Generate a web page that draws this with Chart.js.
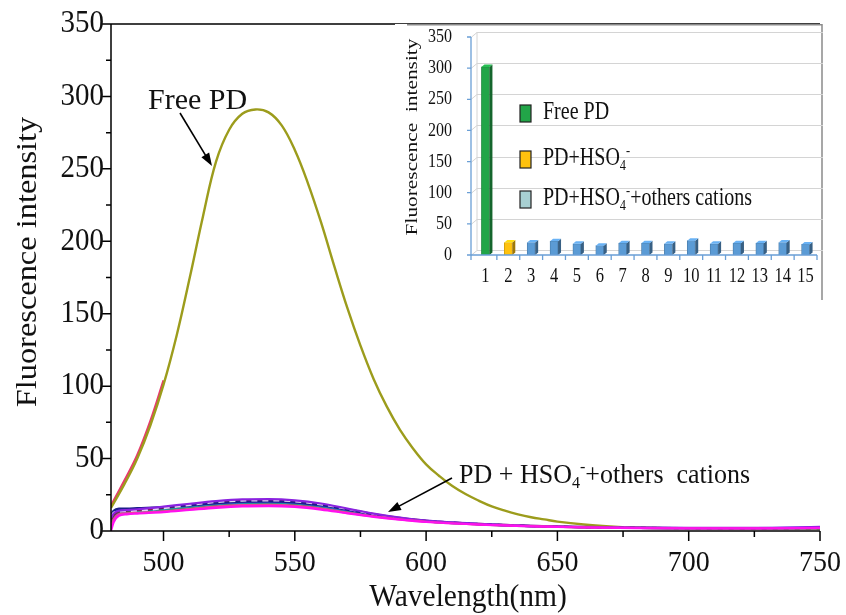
<!DOCTYPE html>
<html>
<head>
<meta charset="utf-8">
<script src="https://cdn.jsdelivr.net/npm/chart.js@4.4.0/dist/chart.umd.min.js"></script>
<style>
  html, body { margin: 0; padding: 0; background: #fff; }
  #wrap { position: relative; width: 846px; height: 615px; }
  #main { position: absolute; left: 0; top: 0; }
  #inset { position: absolute; left: 395px; top: 24px; }
</style>
</head>
<body>
<div id="wrap">
  <canvas id="main" width="846" height="615"></canvas>
  <canvas id="inset" width="432" height="280"></canvas>
</div>
<script>
// emission spectra, intensity vs wavelength (nm)
const wavelengths = [480, 485, 490, 495, 500, 505, 510, 515, 520, 525, 530, 535, 540, 545, 550, 555, 560, 565, 570,
                     575, 580, 585, 590, 595, 600, 605, 610, 615, 620, 625, 630, 635, 640, 645, 650,
                     660, 670, 680, 690, 700, 725, 750];
const freePD = [16, 32, 50, 73, 101, 135, 175, 217, 255, 277, 288, 291, 289, 280, 263, 240, 213, 183, 154,
                128, 105, 86, 70, 57, 46, 38, 31, 25.5, 21, 17, 14, 11.5, 9.5, 8, 6.5,
                4.5, 3.2, 2.4, 2, 1.8, 1.6, 1.5];

// second scan of the free probe, only visible on the rising edge
const repeatWl = [480, 485, 490, 495, 500];
const freePDRepeat = [17.5, 34.5, 52.5, 76, 104];

// PD + HSO4- with the other cations
const cationWl = [480, 481, 483, 486, 490, 500, 510, 520, 530, 540, 550, 560, 570, 580, 590, 600, 620, 640, 660, 680, 700, 725, 750];
const navyCurve    = [11, 14, 15.5, 15.5, 15.8, 16.5, 17.8, 19.2, 20.2, 20.5, 19.8, 17.8, 14.8, 11.5, 8.8, 7, 4.8, 3.4, 2.6, 2.2, 2, 1.8, 2];
const blueCurve    = [10, 13, 14.5, 14.8, 15.2, 16.2, 17.5, 19, 20, 20.2, 19.5, 17.5, 14.5, 11.3, 8.7, 6.9, 4.8, 3.4, 2.6, 2.2, 2, 2, 2.4];
const purpleCurve  = [9, 12, 14, 14.5, 15, 16.8, 18.8, 20.6, 21.8, 22, 21.2, 19, 15.5, 12, 9.2, 7.2, 5, 3.6, 2.8, 2.3, 2.1, 2.1, 2.8];
const wineCurve    = [8, 11, 13.5, 14, 14.5, 16, 18, 19.8, 21, 21.2, 20.4, 18.3, 15, 11.7, 9, 7, 4.9, 3.5, 2.7, 2.2, 2, 1.9, 2.2];
const lilacCurve   = [10, 12.5, 13.5, 13.8, 14, 15.8, 18, 20, 21, 21.2, 20.5, 18.4, 15.2, 11.8, 9, 7, 4.9, 3.5, 2.7, 2.2, 2, 1.9, 2];
const tealCurve    = [7, 10, 12.5, 13, 13.5, 15, 16.8, 18.5, 19.4, 19.6, 19, 17, 14, 11, 8.5, 6.7, 4.7, 3.4, 2.6, 2.2, 1.9, 1.8, 2];
const greenCurve   = [6, 9, 12, 12.6, 13.2, 14.6, 16.3, 18, 19, 19.2, 18.6, 16.6, 13.7, 10.8, 8.3, 6.6, 4.6, 3.3, 2.5, 2.1, 1.9, 1.8, 1.9];
const pinkCurve    = [2, 8, 11.5, 12.2, 12.6, 13.6, 15.2, 16.8, 17.8, 18, 17.3, 15.4, 12.7, 10.1, 8, 6.4, 4.5, 3.3, 2.5, 2.1, 1.9, 1.8, 2];
const magentaCurve = [0, 6, 10.5, 11.5, 12, 13, 14.5, 16, 17, 17.2, 16.6, 14.8, 12.2, 9.8, 7.8, 6.2, 4.4, 3.2, 2.4, 2, 1.8, 1.8, 2.2];

const xTicks = [500, 550, 600, 650, 700, 750];
const xMinorTicks = [525, 575, 625, 675, 725];
const yTicks = [0, 50, 100, 150, 200, 250, 300, 350];
const yMinorTicks = [25, 75, 125, 175, 225, 275, 325];

// inset bar chart: intensity per sample
const insetCats = ['1', '2', '3', '4', '5', '6', '7', '8', '9', '10', '11', '12', '13', '14', '15'];
const insetValues = [302, 20, 20, 22, 18, 15, 19, 19, 18, 23, 18, 19, 19, 20, 17];
const insetTicks = [0, 50, 100, 150, 200, 250, 300, 350];

const SERIF = '"Liberation Serif", "Times New Roman", serif';

function pairs(xs, ys) {
  return xs.map((x, i) => ({ x: x, y: ys[i] }));
}

// text with an optional vertical stretch (sy) applied after rotation
function putText(ctx, str, x, y, size, align, baseline, rot, sy) {
  ctx.save();
  ctx.translate(x, y);
  ctx.scale(1, sy || 1);
  if (rot) ctx.rotate(rot);
  ctx.font = size + 'px ' + SERIF;
  ctx.textAlign = align;
  ctx.textBaseline = baseline;
  ctx.fillStyle = '#111';
  ctx.fillText(str, 0, 0);
  ctx.restore();
}

// pieces: [text, 'sub' | 'sup' | undefined]
function putRich(ctx, pieces, x, y, size, sy) {
  ctx.save();
  ctx.translate(x, y);
  ctx.scale(1, sy || 1);
  ctx.textAlign = 'left';
  ctx.textBaseline = 'alphabetic';
  ctx.fillStyle = '#111';
  let cx = 0;
  pieces.forEach(([t, kind]) => {
    const s = kind ? size * 0.62 : size;
    const dy = kind === 'sub' ? size * 0.2 : kind === 'sup' ? -size * 0.4 : 0;
    ctx.font = s + 'px ' + SERIF;
    ctx.fillText(t, cx, dy);
    cx += ctx.measureText(t).width;
  });
  ctx.restore();
}

function arrow(ctx, x1, y1, x2, y2) {
  const a = Math.atan2(y2 - y1, x2 - x1);
  const L = 13, W = 4.5;
  const c = Math.cos(a), s = Math.sin(a);
  ctx.save();
  ctx.strokeStyle = '#000';
  ctx.fillStyle = '#000';
  ctx.lineWidth = 1.6;
  ctx.beginPath();
  ctx.moveTo(x1, y1);
  ctx.lineTo(x2 - L * c * 0.8, y2 - L * s * 0.8);
  ctx.stroke();
  ctx.beginPath();
  ctx.moveTo(x2, y2);
  ctx.lineTo(x2 - L * c + W * s, y2 - L * s - W * c);
  ctx.lineTo(x2 - L * c - W * s, y2 - L * s + W * c);
  ctx.closePath();
  ctx.fill();
  ctx.restore();
}

// axes, ticks, labels and annotations of the spectra plot
const spectraFrame = {
  id: 'spectraFrame',
  afterDraw(chart) {
    const { ctx, chartArea: a, scales: { x, y } } = chart;
    ctx.save();
    ctx.strokeStyle = '#000';
    ctx.lineWidth = 1.5;
    ctx.beginPath();
    ctx.moveTo(a.right, a.top);
    ctx.lineTo(a.left, a.top);
    ctx.lineTo(a.left, a.bottom);
    ctx.lineTo(a.right, a.bottom);
    xTicks.forEach(v => { const px = x.getPixelForValue(v); ctx.moveTo(px, a.bottom); ctx.lineTo(px, a.bottom + 10); });
    xMinorTicks.forEach(v => { const px = x.getPixelForValue(v); ctx.moveTo(px, a.bottom); ctx.lineTo(px, a.bottom + 6); });
    yTicks.forEach(v => { const py = y.getPixelForValue(v); ctx.moveTo(a.left, py); ctx.lineTo(a.left - 9, py); });
    yMinorTicks.forEach(v => { const py = y.getPixelForValue(v); ctx.moveTo(a.left, py); ctx.lineTo(a.left - 5, py); });
    ctx.stroke();
    ctx.restore();

    xTicks.forEach(v => putText(ctx, String(v), x.getPixelForValue(v), 563, 28, 'center', 'middle', 0, 1.08));
    yTicks.forEach(v => putText(ctx, String(v), 104, y.getPixelForValue(v), 29, 'right', 'middle', 0, 1.08));
    putText(ctx, 'Wavelength(nm)', 468, 598, 29.5, 'center', 'middle', 0, 1.05);
    putText(ctx, 'Fluorescence intensity', 28, 262, 30, 'center', 'middle', -Math.PI / 2, 1.08);

    putText(ctx, 'Free PD', 148, 109, 30, 'left', 'alphabetic');
    arrow(ctx, 180, 113, 212, 166);
    putRich(ctx, [['PD + HSO'], ['4', 'sub'], ['-', 'sup'], ['+others  cations']], 459, 483, 26, 1.05);
    arrow(ctx, 452, 478, 388, 512);
  }
};

const lineSet = (label, xs, ys, color, order, extra) => Object.assign({
  label: label,
  data: pairs(xs, ys),
  borderColor: color,
  borderWidth: 2.2,
  pointRadius: 0,
  fill: false,
  cubicInterpolationMode: 'monotone',
  order: order
}, extra || {});

new Chart(document.getElementById('main'), {
  type: 'line',
  data: {
    datasets: [
      lineSet('magenta', cationWl, magentaCurve, '#ff10f0', 0),
      lineSet('pink', cationWl, pinkCurve, '#f0409a', 1),
      lineSet('purple', cationWl, purpleCurve, '#8a22e0', 2),
      lineSet('lilac', cationWl, lilacCurve, '#e4d4f0', 3, { borderDash: [6, 5] }),
      lineSet('navy', cationWl, navyCurve, '#1c1c8a', 4),
      lineSet('wine', cationWl, wineCurve, '#8c1446', 5),
      lineSet('blue', cationWl, blueCurve, '#2f4fdc', 6),
      lineSet('teal', cationWl, tealCurve, '#1e9a9a', 7),
      lineSet('green', cationWl, greenCurve, '#3a8a3a', 8),
      lineSet('Free PD', wavelengths, freePD, '#9c9c1c', 9,
        { cubicInterpolationMode: 'default', tension: 0.4, borderWidth: 2.4 }),
      lineSet('Free PD repeat', repeatWl, freePDRepeat, '#e8386e', 10,
        { cubicInterpolationMode: 'default', tension: 0.4 })
    ]
  },
  options: {
    responsive: false,
    animation: false,
    devicePixelRatio: 1,
    layout: { padding: { top: 24, right: 26, left: 0, bottom: 0 } },
    plugins: { legend: { display: false }, tooltip: { enabled: false } },
    scales: {
      x: {
        type: 'linear', min: 480, max: 750,
        grid: { display: false }, border: { display: false }, ticks: { display: false },
        afterFit(s) { s.height = 84; }
      },
      y: {
        min: 0, max: 350,
        grid: { display: false }, border: { display: false }, ticks: { display: false },
        afterFit(s) { s.width = 111; }
      }
    }
  },
  plugins: [spectraFrame]
});

// ---- inset: pseudo-3D column chart ----
const AXIS_BLUE = '#6a9fd6';
const DX = 6, DY = -5;
const INSET_SY = 1.22;

function shade(hex, f) {
  const n = parseInt(hex.slice(1), 16);
  const r = Math.round(((n >> 16) & 255) * f), g = Math.round(((n >> 8) & 255) * f), b = Math.round((n & 255) * f);
  return 'rgb(' + Math.min(r, 255) + ',' + Math.min(g, 255) + ',' + Math.min(b, 255) + ')';
}

const barFill = insetValues.map((v, i) => i === 0 ? '#22a548' : i === 1 ? '#ffc20e' : '#5b9bd5');

const insetDecor = {
  id: 'insetDecor',
  beforeDraw(chart) {
    const { ctx, width, height } = chart;
    ctx.save();
    ctx.fillStyle = '#fff';
    ctx.fillRect(0, 0, width, height);
    ctx.strokeStyle = '#8a8a8a';
    ctx.lineWidth = 1.5;
    ctx.beginPath();
    ctx.moveTo(12, 0.75);
    ctx.lineTo(427, 0.75);
    ctx.lineTo(427, 276);
    ctx.stroke();
    ctx.restore();
  },
  beforeDatasetsDraw(chart) {
    const { ctx, chartArea: a, scales: { y } } = chart;
    const x0 = a.left - 3;
    ctx.save();
    ctx.strokeStyle = '#d4d4d4';
    ctx.lineWidth = 1;
    ctx.beginPath();
    insetTicks.forEach(v => {
      const py = Math.round(y.getPixelForValue(v)) + 0.5;
      ctx.moveTo(x0, py);
      ctx.lineTo(x0 + DX, py + DY);
      ctx.lineTo(a.right + DX, py + DY);
    });
    ctx.moveTo(x0 + DX, a.top + DY);
    ctx.lineTo(x0 + DX, a.bottom + DY);
    ctx.stroke();
    ctx.restore();
  },
  afterDatasetsDraw(chart) {
    const { ctx, chartArea: a, scales: { x, y } } = chart;
    const meta = chart.getDatasetMeta(0);
    const x0 = a.left - 3;
    ctx.save();
    meta.data.forEach((bar, i) => {
      const half = bar.width / 2, d = 3, e = -2.5;
      const col = barFill[i];
      ctx.fillStyle = shade(col, 0.62);
      ctx.beginPath();
      ctx.moveTo(bar.x + half, bar.y);
      ctx.lineTo(bar.x + half + d, bar.y + e);
      ctx.lineTo(bar.x + half + d, bar.base + e);
      ctx.lineTo(bar.x + half, bar.base);
      ctx.closePath();
      ctx.fill();
      ctx.fillStyle = shade(col, 1.15);
      ctx.beginPath();
      ctx.moveTo(bar.x - half, bar.y);
      ctx.lineTo(bar.x - half + d, bar.y + e);
      ctx.lineTo(bar.x + half + d, bar.y + e);
      ctx.lineTo(bar.x + half, bar.y);
      ctx.closePath();
      ctx.fill();
    });

    // axes
    ctx.strokeStyle = AXIS_BLUE;
    ctx.lineWidth = 1.3;
    ctx.beginPath();
    ctx.moveTo(x0, a.top);
    ctx.lineTo(x0, a.bottom);
    ctx.lineTo(a.right, a.bottom);
    insetTicks.forEach(v => {
      const py = y.getPixelForValue(v);
      ctx.moveTo(x0 - 4, py);
      ctx.lineTo(x0, py);
    });
    const step = (a.right - a.left) / insetCats.length;
    for (let k = 0; k <= insetCats.length; k++) {
      const px = k === 0 ? x0 : a.left + k * step;
      ctx.moveTo(px, a.bottom);
      ctx.lineTo(px, a.bottom + 5);
    }
    ctx.stroke();
    ctx.restore();

    insetTicks.forEach(v => putText(ctx, String(v), 57, y.getPixelForValue(v), 16, 'right', 'middle', 0, INSET_SY));
    insetCats.forEach((c, i) => putText(ctx, c, x.getPixelForValue(i), 253, 16.5, 'center', 'middle', 0, INSET_SY));
    putText(ctx, 'Fluorescence  intensity', 17, 113, 17.5, 'center', 'middle', -Math.PI / 2, INSET_SY);

    // legend
    const keys = [
      { color: '#22a548', y: 89, text: [['Free PD']] },
      { color: '#ffc20e', y: 135, text: [['PD+HSO'], ['4', 'sub'], ['-', 'sup']] },
      { color: '#a8d0d2', y: 175, text: [['PD+HSO'], ['4', 'sub'], ['-', 'sup'], ['+others cations']] }
    ];
    keys.forEach(k => {
      ctx.save();
      ctx.fillStyle = k.color;
      ctx.strokeStyle = '#222';
      ctx.lineWidth = 1.2;
      ctx.fillRect(125, k.y - 8, 11, 17);
      ctx.strokeRect(125, k.y - 8, 11, 17);
      ctx.restore();
      putRich(ctx, k.text, 148, k.y + 6, 20, INSET_SY);
    });
  }
};

new Chart(document.getElementById('inset'), {
  type: 'bar',
  data: {
    labels: insetCats,
    datasets: [{
      data: insetValues,
      backgroundColor: barFill,
      borderColor: barFill.map(c => shade(c, 0.8)),
      borderWidth: 0.8,
      barThickness: 8
    }]
  },
  options: {
    responsive: false,
    animation: false,
    devicePixelRatio: 1,
    layout: { padding: { top: 13, right: 10, left: 0, bottom: 0 } },
    plugins: { legend: { display: false }, tooltip: { enabled: false } },
    scales: {
      x: {
        grid: { display: false }, border: { display: false }, ticks: { display: false },
        afterFit(s) { s.height = 49; }
      },
      y: {
        min: 0, max: 350,
        grid: { display: false }, border: { display: false }, ticks: { display: false },
        afterFit(s) { s.width = 79; }
      }
    }
  },
  plugins: [insetDecor]
});
</script>
</body>
</html>
